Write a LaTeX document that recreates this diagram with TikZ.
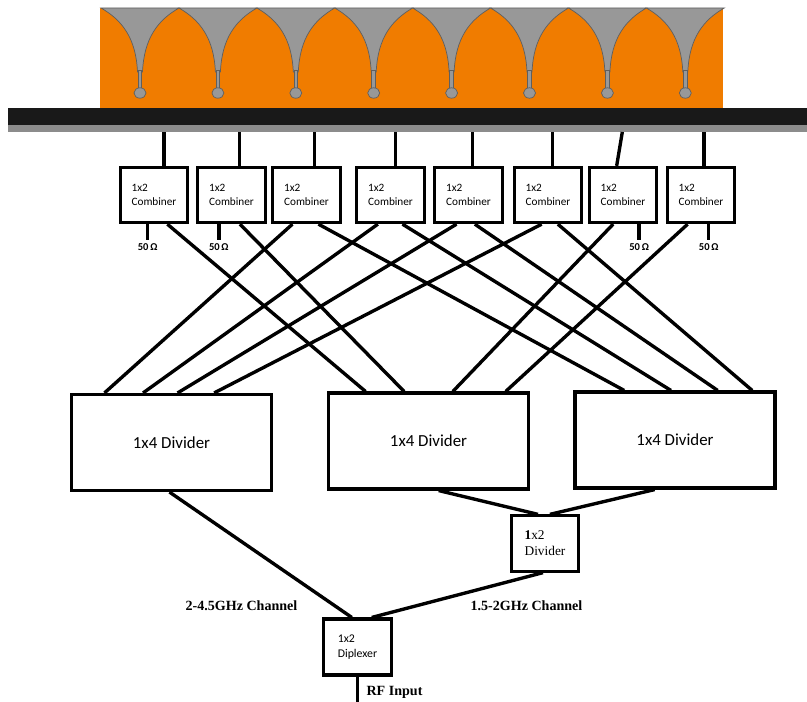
\documentclass[tikz,border=0pt]{standalone}
\usepackage{fontspec}
\setmainfont{Carlito}
\newfontfamily\timesfont{Liberation Serif}
\usetikzlibrary{calc, positioning}
\definecolor{hornorange}{RGB}{240,124,0}
\definecolor{slotgray}{RGB}{152,152,152}
\definecolor{slotedge}{RGB}{95,95,95}

\begin{document}
\begin{tikzpicture}[x=0.025cm, y=-0.025cm,
	combstyle/.style={
	draw,rectangle,line width=2.2pt,minimum width=1.68cm,minimum height=1.38cm,
	inner sep=0pt,align=left,font=\fontsize{8}{10.5}\selectfont
	},
	divstyle/.style={
	draw,rectangle,line width=2.2pt,minimum width=5cm,minimum height=2.4cm,
	font=\fontsize{12}{14}\selectfont
	},
	wire/.style={line width=2.4pt},
	termlabel/.style={inner sep=1pt,font=\fontsize{7.5}{8.5}\selectfont\bfseries},
	chanlabel/.style={inner sep=1pt,font=\fontsize{10}{12}\selectfont\timesfont\bfseries}
]
	\useasboundingbox (0,0) rectangle (807,702);

	% tapered slot array on its ground plane
	\fill[hornorange] (100,8) rectangle (723,108.5);
	\foreach \i in {0,...,7} {
		\pgfmathsetmacro{\e}{140+77.9*\i}
		\filldraw[slotgray,draw=slotedge,line width=0.5pt] (\e-39,8) -- (\e+39,8)
			.. controls (\e+18,20) and (\e+4,38) .. (\e+2.5,72) -- (\e-2.5,72)
			.. controls (\e-4,38) and (\e-18,20) .. (\e-39,8) -- cycle;
		\filldraw[slotgray,draw=slotedge,line width=0.6pt] (\e-1.8,70) rectangle (\e+1.8,88);
		\filldraw[slotgray,draw=slotedge,line width=0.5pt] (\e,93) ellipse [x radius=6, y radius=5.2];
	}
	\fill[black!90] (8,108) rectangle (807,125);
	\fill[black!45] (8,125) rectangle (807,132);
	\coordinate (barbot) at (0,132);

	% combiners
	\node[combstyle] at (154,195) (c1) {1x2\\Combiner};
	\node[combstyle] at (231.5,195) (c2) {1x2\\Combiner};
	\node[combstyle] at (306.5,195) (c3) {1x2\\Combiner};
	\node[combstyle] at (390.5,195) (c4) {1x2\\Combiner};
	\node[combstyle] at (468.5,195) (c5) {1x2\\Combiner};
	\node[combstyle] at (548,195) (c6) {1x2\\Combiner};
	\node[combstyle] at (623,195) (c7) {1x2\\Combiner};
	\node[combstyle] at (701,195) (c8) {1x2\\Combiner};

	% feeds up to the array
	\foreach \c/\f in {c1/.64, c2/.61, c3/.61, c4/.57, c5/.56, c6/.56, c8/.54} {
		\path ($(\c.north west)!\f!(\c.north east)$) coordinate (feed);
		\draw[wire] (feed) -- (feed |- barbot);
	}
	\path ($(c7.north west)!.41!(c7.north east)$) coordinate (feed7);
	\draw[wire] (feed7) -- ([xshift=4pt]feed7 |- barbot);

	% matched loads
	\foreach \c/\f in {c1/.41, c2/.32, c7/.73, c8/.61} {
		\coordinate (load\c) at ($(\c.south west)!\f!(\c.south east)+(0,16)$);
		\draw[wire] ($(\c.south west)!\f!(\c.south east)$) -- (load\c);
		\node[termlabel,below=1pt of load\c] (r\c) {50\,Ω};
	}

	% dividers
	\node[divstyle] at (171.5,442.5) (d1) {1x4 Divider};
	\node[divstyle] at (428.5,441) (d2) {1x4 Divider};
	\node[divstyle] at (675,440) (d3) {1x4 Divider};

	\foreach \src/\fs/\dst/\fd in {c1/.69/d2/.19, c2/.62/d2/.38, c7/.36/d2/.62, c8/.31/d2/.88,
		c3/.30/d1/.17, c4/.32/d1/.36, c5/.33/d1/.53, c6/.41/d1/.71,
		c3/.67/d3/.25, c4/.67/d3/.48, c5/.59/d3/.71, c6/.64/d3/.88}
		\draw[wire] ($(\src.south west)!\fs!(\src.south east)$) -- ($(\dst.north west)!\fd!(\dst.north east)$);

	% low band splitter and diplexer
	\node[combstyle,font=\fontsize{9.5}{11.5}\selectfont\timesfont] at (545,543.5) (dv) {\textbf{1}x2\\Divider};
	\node[combstyle,minimum width=1.7cm,minimum height=1.4cm,font=\fontsize{8.4}{11}\selectfont] at (357.5,647) (dx) {1x2\\Diplexer};

	\draw[wire] ($(d2.south west)!.55!(d2.south east)$) -- ($(dv.north west)!.40!(dv.north east)$);
	\draw[wire] ($(d3.south west)!.40!(d3.south east)$) -- ($(dv.north west)!.57!(dv.north east)$);
	\draw[wire] ($(d1.south west)!.49!(d1.south east)$) -- ($(dx.north west)!.42!(dx.north east)$);
	\draw[wire] ($(dv.south west)!.47!(dv.south east)$) -- ($(dx.north west)!.70!(dx.north east)$);

	\coordinate (rfend) at ($(dx.south)+(0,25)$);
	\draw[wire] (dx.south) -- (rfend);

	\node[chanlabel] at (241.5,606) (hiband) {2-4.5GHz Channel};
	\node[chanlabel] at (526.5,606) (loband) {1.5-2GHz Channel};
	\node[chanlabel] at (394.5,692) (rfin) {RF Input};
\end{tikzpicture}
\end{document}
